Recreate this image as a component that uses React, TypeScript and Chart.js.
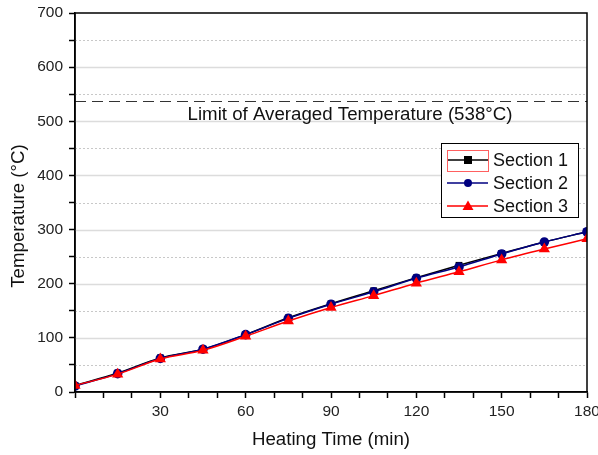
import React, { useEffect, useRef } from "react";
import { Chart, registerables } from "chart.js";

Chart.register(...registerables);

const times = [0, 15, 30, 45, 60, 75, 90, 105, 120, 135, 150, 165, 180];
const section1 = [12, 35, 63, 79, 106, 137, 163, 187, 211, 234, 256, 277, 296];
const section2 = [11, 34, 62, 79, 106, 136, 162, 185, 210, 231, 255, 277, 296];
const section3 = [12, 33, 61, 77, 103, 131, 156, 178, 201, 222, 244, 264, 283];
const seriesNames = ["Section 1", "Section 2", "Section 3"];
const limitValue = 538;
const limitLabel = "Limit of Averaged Temperature (538\u00B0C)";
const xTitle = "Heating Time (min)";
const yTitle = "Temperature (\u00B0C)";

const FONT = "'Liberation Sans', Arial, sans-serif";
const colors = ["#000000", "#000080", "#ff0000"];
const markers = ["rect", "circle", "triangle"];

const decorPlugin = {
  id: "decor",
  beforeDatasetsDraw(chart: any) {
    const { ctx, chartArea, scales } = chart;
    const y = scales.y;
    ctx.save();
    for (let v = 50; v < 700; v += 50) {
      const py = Math.round(y.getPixelForValue(v)) + 0.5;
      ctx.beginPath();
      if (v % 100 === 0) {
        ctx.setLineDash([]);
        ctx.strokeStyle = "#dcdcdc";
        ctx.lineWidth = 1.5;
      } else {
        ctx.setLineDash([2, 2]);
        ctx.strokeStyle = "#c8c8c8";
        ctx.lineWidth = 1;
      }
      ctx.moveTo(chartArea.left, py);
      ctx.lineTo(chartArea.right, py);
      ctx.stroke();
    }
    // limit line
    const ly = Math.round(y.getPixelForValue(limitValue)) + 0.5;
    ctx.setLineDash([11, 6]);
    ctx.strokeStyle = "#333333";
    ctx.lineWidth = 1;
    ctx.beginPath();
    ctx.moveTo(chartArea.left, ly);
    ctx.lineTo(chartArea.right, ly);
    ctx.stroke();
    ctx.setLineDash([]);
    ctx.fillStyle = "#111111";
    ctx.font = `18.7px ${FONT}`;
    ctx.textAlign = "center";
    ctx.textBaseline = "middle";
    ctx.fillText(limitLabel, 350, ly + 13);
    ctx.restore();
  },
  afterDraw(chart: any) {
    const { ctx, chartArea } = chart;
    ctx.save();
    ctx.strokeStyle = "#000";
    ctx.lineWidth = 1.5;
    ctx.strokeRect(chartArea.left, chartArea.top, chartArea.right - chartArea.left, chartArea.bottom - chartArea.top);
    // axis titles
    ctx.fillStyle = "#111";
    ctx.font = `18.7px ${FONT}`;
    ctx.textAlign = "center";
    ctx.textBaseline = "middle";
    ctx.fillText(xTitle, (chartArea.left + chartArea.right) / 2, 440);
    ctx.save();
    ctx.translate(19, 216);
    ctx.rotate(-Math.PI / 2);
    ctx.fillText(yTitle, 0, 0);
    ctx.restore();
    // legend
    const bx = 441, by = 143, bw = 137, bh = 74;
    ctx.fillStyle = "#fff";
    ctx.fillRect(bx, by, bw, bh);
    ctx.strokeStyle = "#000";
    ctx.lineWidth = 1;
    ctx.strokeRect(bx + 0.5, by + 0.5, bw, bh);
    for (let i = 0; i < 3; i++) {
      const cy = 160 + i * 23;
      ctx.strokeStyle = colors[i];
      ctx.lineWidth = 1.5;
      ctx.beginPath();
      ctx.moveTo(447, cy);
      ctx.lineTo(488, cy);
      ctx.stroke();
      ctx.fillStyle = colors[i];
      ctx.beginPath();
      if (i === 0) {
        ctx.rect(464, cy - 4, 8, 8);
      } else if (i === 1) {
        ctx.arc(468, cy, 4, 0, Math.PI * 2);
      } else {
        ctx.moveTo(468, cy - 5.5);
        ctx.lineTo(473.5, cy + 4);
        ctx.lineTo(462.5, cy + 4);
        ctx.closePath();
      }
      ctx.fill();
      ctx.fillStyle = "#111";
      ctx.font = `18px ${FONT}`;
      ctx.textAlign = "left";
      ctx.textBaseline = "middle";
      ctx.fillText(seriesNames[i], 493, cy + 1);
    }
    ctx.strokeStyle = "#ff6060";
    ctx.lineWidth = 1;
    ctx.strokeRect(447.5, 150.5, 41, 21);
    ctx.restore();
  },
};

export default function App() {
  const ref = useRef<HTMLCanvasElement>(null);
  useEffect(() => {
    if (!ref.current) return;
    const mk = (data: number[]) => times.map((t, i) => ({ x: t, y: data[i] }));
    const all = [section1, section2, section3];
    const chart = new Chart(ref.current, {
      type: "line",
      data: {
        datasets: all.map((d, i) => ({
          label: seriesNames[i],
          data: mk(d),
          borderColor: colors[i],
          backgroundColor: colors[i],
          borderWidth: 1.5,
          pointStyle: markers[i] as any,
          pointRadius: i === 2 ? 6.5 : 4.8,
          pointBorderWidth: 0,
          cubicInterpolationMode: "monotone" as any,
          order: 3 - i,
        })),
      },
      plugins: [decorPlugin],
      options: {
        animation: false,
        responsive: false,
        maintainAspectRatio: false,
        layout: { padding: { left: 0, right: 11, top: 13, bottom: 0 } },
        plugins: { legend: { display: false }, tooltip: { enabled: false } },
        scales: {
          x: {
            type: "linear",
            min: 0,
            max: 180,
            afterFit: (s: any) => { s.height = 63; s.paddingLeft = 0; s.paddingRight = 0; },
            ticks: {
              stepSize: 10,
              autoSkip: false,
              maxRotation: 0,
              color: "#222",
              font: { family: FONT, size: 15.5 },
              padding: 4,
              callback: (v: any) => (v % 30 === 0 && v !== 0 ? String(v) : ""),
            },
            grid: { drawOnChartArea: false, tickLength: 6, color: "#000", tickWidth: 1.5 },
            border: { color: "#000", width: 1.5 },
          },
          y: {
            min: 0,
            max: 700,
            afterFit: (s: any) => { s.width = 75; s.paddingTop = 0; s.paddingBottom = 0; },
            ticks: {
              stepSize: 50,
              autoSkip: false,
              color: "#222",
              font: { family: FONT, size: 15.5 },
              padding: 6,
              callback: (v: any) => (v % 100 === 0 ? String(v) : ""),
            },
            grid: { drawOnChartArea: false, tickLength: 6, color: "#000", tickWidth: 1.5 },
            border: { color: "#000", width: 1.5 },
          },
        },
      },
    });
    return () => chart.destroy();
  }, []);
  return (
    <div style={{ position: "absolute", left: 0, top: 0, width: 598, height: 455, background: "#fff" }}>
      <canvas ref={ref} width={598} height={455} style={{ width: 598, height: 455 }} />
    </div>
  );
}
